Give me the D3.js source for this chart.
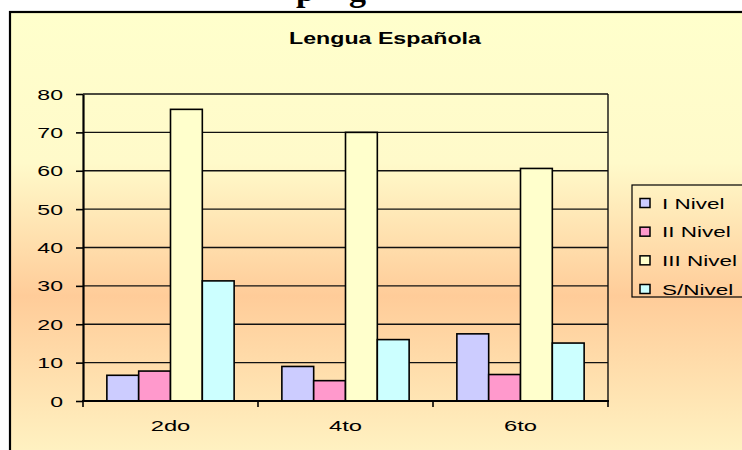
<!DOCTYPE html>
<html>
<head>
<meta charset="utf-8">
<script src="https://cdn.jsdelivr.net/npm/d3@7"></script>
<style>
  html, body { margin: 0; padding: 0; background: #fff; }
  svg { display: block; }
</style>
</head>
<body>
<div id="vis"></div>
<script>
// Data
var categories = ["2do", "4to", "6to"];
var seriesNames = ["I Nivel", "II Nivel", "III Nivel", "S/Nivel"];
var seriesColors = ["#CCCCFF", "#FF99CC", "#FFFFCC", "#CCFFFF"];
var nivel1 = [6.7, 9.0, 17.5];
var nivel2 = [7.8, 5.3, 6.9];
var nivel3 = [76.0, 70.0, 60.6];
var sinNivel = [31.3, 16.0, 15.1];
var yTicks = [0, 10, 20, 30, 40, 50, 60, 70, 80];
var chartTitle = "Lengua Española";
var headingGlyphs = ["p", "g"]; // clipped heading above the chart, only descenders show

var seriesValues = [nivel1, nivel2, nivel3, sinNivel];

var width = 742, height = 450;
var plot = {left: 83, right: 608, top: 94, bottom: 401};

var svg = d3.select("#vis").append("svg")
    .attr("width", width)
    .attr("height", height);

// background gradient of the chart area
var defs = svg.append("defs");
var grad = defs.append("linearGradient")
    .attr("id", "bg")
    .attr("gradientUnits", "userSpaceOnUse")
    .attr("x1", 0).attr("y1", 12).attr("x2", 0).attr("y2", 470);
grad.append("stop").attr("offset", "0%").attr("stop-color", "#FFFFCC");
grad.append("stop").attr("offset", "33%").attr("stop-color", "#FFFACA");
grad.append("stop").attr("offset", "62%").attr("stop-color", "#FFCC99");
grad.append("stop").attr("offset", "100%").attr("stop-color", "#FFF6C6");

// heading fragments above the chart box (cut off by the page edge)
svg.selectAll(".heading")
    .data(headingGlyphs)
    .enter().append("text")
    .attr("class", "heading")
    .attr("x", function(d, i) { return i == 0 ? 296 : 349; })
    .attr("y", 1)
    .style("font-family", "'Liberation Serif', 'Times New Roman', serif")
    .style("font-weight", "bold")
    .style("font-size", "34px")
    .attr("fill", "#000")
    .text(function(d) { return d; });

// chart area (runs past the right and bottom edges)
svg.append("rect")
    .attr("x", 10).attr("y", 12)
    .attr("width", 760).attr("height", 470)
    .attr("fill", "url(#bg)")
    .attr("stroke", "#000")
    .attr("stroke-width", 2.2);

var font = "'Liberation Sans', Arial, sans-serif";

// stretched text helper: the picture's text is wider than normal Arial
function wideText(g, x, y, str, size, sx, anchor, weight) {
    return g.append("text")
        .attr("transform", "translate(" + x + "," + y + ") scale(" + sx + ",1)")
        .attr("text-anchor", anchor)
        .style("font-family", font)
        .style("font-size", size + "px")
        .style("font-weight", weight || "normal")
        .attr("fill", "#000")
        .text(str);
}

// title
wideText(svg, 385, 44, chartTitle, 16, 1.45, "middle", "bold");

// scales
var x0 = d3.scaleBand().domain(categories).range([plot.left, plot.right]).padding(0);
var x1 = d3.scaleBand().domain(seriesNames).range([0, x0.bandwidth()])
    .paddingInner(0).paddingOuter(0.75);
var y = d3.scaleLinear().domain([0, 80]).range([plot.bottom, plot.top]);

// grid
svg.append("g")
    .selectAll("line")
    .data(yTicks.filter(function(d) { return d > 0; }))
    .enter().append("line")
    .attr("x1", plot.left).attr("x2", plot.right)
    .attr("y1", function(d) { return y(d); })
    .attr("y2", function(d) { return y(d); })
    .attr("stroke", "#111")
    .attr("stroke-width", 1.4);

// plot area right edge
svg.append("line")
    .attr("x1", plot.right).attr("x2", plot.right)
    .attr("y1", plot.top).attr("y2", plot.bottom)
    .attr("stroke", "#111").attr("stroke-width", 1.4);

// bars
var groups = svg.append("g").selectAll("g")
    .data(categories)
    .enter().append("g")
    .attr("transform", function(d) { return "translate(" + x0(d) + ",0)"; });

groups.selectAll("rect")
    .data(function(c, ci) {
        return seriesNames.map(function(s, si) {
            return {series: s, color: seriesColors[si], value: seriesValues[si][ci]};
        });
    })
    .enter().append("rect")
    .attr("x", function(d) { return x1(d.series); })
    .attr("width", x1.bandwidth())
    .attr("y", function(d) { return y(d.value); })
    .attr("height", function(d) { return y(0) - y(d.value); })
    .attr("fill", function(d) { return d.color; })
    .attr("stroke", "#000")
    .attr("stroke-width", 1.6);

// y axis
var yAxis = svg.append("g")
    .attr("transform", "translate(" + plot.left + ",0)")
    .call(d3.axisLeft(y).tickValues(yTicks).tickSize(7).tickSizeOuter(0));
yAxis.select(".domain").attr("stroke", "#000").attr("stroke-width", 2.2);
yAxis.selectAll(".tick line").attr("stroke", "#000").attr("stroke-width", 1.6);
yAxis.selectAll(".tick text").remove();
yAxis.selectAll(".tick").each(function(d) {
    wideText(d3.select(this), -20, 5, d, 14, 1.65, "end");
});

// x axis
var xAxis = svg.append("g")
    .attr("transform", "translate(0," + plot.bottom + ")");
xAxis.append("line")
    .attr("x1", plot.left - 1).attr("x2", plot.right + 1)
    .attr("stroke", "#000").attr("stroke-width", 2.2);
xAxis.selectAll(".xtick")
    .data(categories.concat(["end"]))
    .enter().append("line")
    .attr("class", "xtick")
    .attr("x1", function(d, i) { return i < categories.length ? x0(d) : plot.right; })
    .attr("x2", function(d, i) { return i < categories.length ? x0(d) : plot.right; })
    .attr("y1", 0).attr("y2", 6)
    .attr("stroke", "#000").attr("stroke-width", 1.6);
categories.forEach(function(c) {
    wideText(xAxis, x0(c) + x0.bandwidth() / 2, 30, c, 14, 1.7, "middle");
});

// legend
var legend = svg.append("g");
legend.append("rect")
    .attr("x", 632).attr("y", 185)
    .attr("width", 140).attr("height", 112)
    .attr("fill", "none")
    .attr("stroke", "#000").attr("stroke-width", 1.2);

var rowY = d3.scalePoint().domain(seriesNames).range([203, 289]);
seriesNames.forEach(function(s, i) {
    legend.append("rect")
        .attr("x", 640).attr("y", rowY(s) - 4.5)
        .attr("width", 10).attr("height", 9)
        .attr("fill", seriesColors[i])
        .attr("stroke", "#000").attr("stroke-width", 1.5);
    wideText(legend, 662, rowY(s) + 5.5, s, 15, 1.5, "start");
});
</script>
</body>
</html>
